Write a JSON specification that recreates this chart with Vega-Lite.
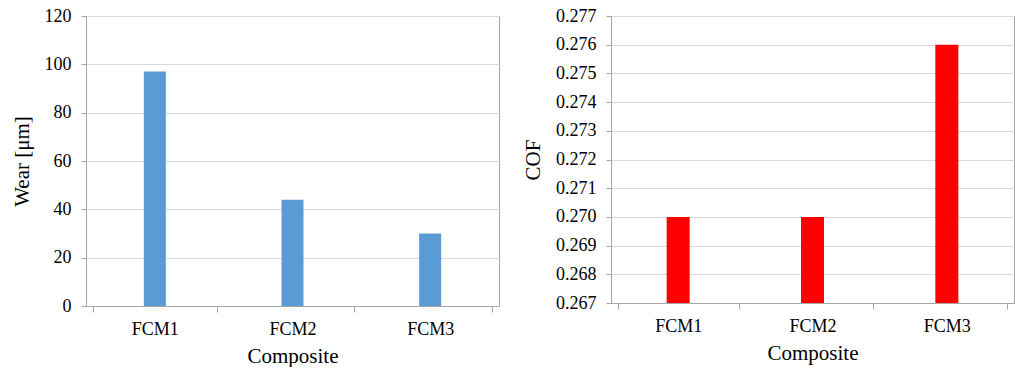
{
  "$schema": "https://vega.github.io/schema/vega-lite/v6.json",
  "padding": {"left": 10, "top": 6, "right": 0, "bottom": 0},
  "background": "white",
  "spacing": 22,
  "config": {
    "font": "Times New Roman, Liberation Serif, DejaVu Serif, serif",
    "view": {"stroke": "#a6a6a6", "strokeWidth": 1},
    "axis": {
      "labelFont": "Times New Roman, Liberation Serif, DejaVu Serif, serif",
      "titleFont": "Times New Roman, Liberation Serif, DejaVu Serif, serif",
      "labelFontSize": 18,
      "titleFontSize": 21,
      "titleFontWeight": "normal",
      "labelColor": "black",
      "titleColor": "black",
      "domainColor": "#a6a6a6",
      "tickColor": "#a6a6a6",
      "gridColor": "#d9d9d9",
      "tickSize": 6
    }
  },
  "datasets": {
    "wear": [
      {"Composite": "FCM1", "Wear": 97},
      {"Composite": "FCM2", "Wear": 44},
      {"Composite": "FCM3", "Wear": 30}
    ],
    "cof": [
      {"Composite": "FCM1", "COF": 0.270},
      {"Composite": "FCM2", "COF": 0.270},
      {"Composite": "FCM3", "COF": 0.276}
    ]
  },
  "hconcat": [
    {
      "width": 413,
      "height": 290,
      "data": {"name": "wear"},
      "mark": {"type": "bar", "color": "#5b9bd5", "size": 22},
      "encoding": {
        "x": {
          "field": "Composite", "type": "nominal",
          "axis": {"labelAngle": 0, "tickBand": "extent", "labelPadding": 8, "titlePadding": 7, "grid": false}
        },
        "y": {
          "field": "Wear", "type": "quantitative",
          "scale": {"domain": [0, 120]},
          "axis": {"title": "Wear [μm]", "values": [0, 20, 40, 60, 80, 100, 120], "labelPadding": 10, "titlePadding": 12, "tickSize": 5}
        }
      }
    },
    {
      "width": 403,
      "height": 287,
      "data": {"name": "cof"},
      "mark": {"type": "bar", "color": "#ff0000", "size": 23, "clip": true},
      "encoding": {
        "x": {
          "field": "Composite", "type": "nominal",
          "axis": {"labelAngle": 0, "tickBand": "extent", "labelPadding": 8, "titlePadding": 7, "grid": false}
        },
        "y": {
          "field": "COF", "type": "quantitative",
          "scale": {"domain": [0.267, 0.277], "zero": false},
          "axis": {"title": "COF", "format": ".3f", "values": [0.267, 0.268, 0.269, 0.27, 0.271, 0.272, 0.273, 0.274, 0.275, 0.276, 0.277], "labelPadding": 10, "titlePadding": 12, "tickSize": 5}
        }
      }
    }
  ]
}
